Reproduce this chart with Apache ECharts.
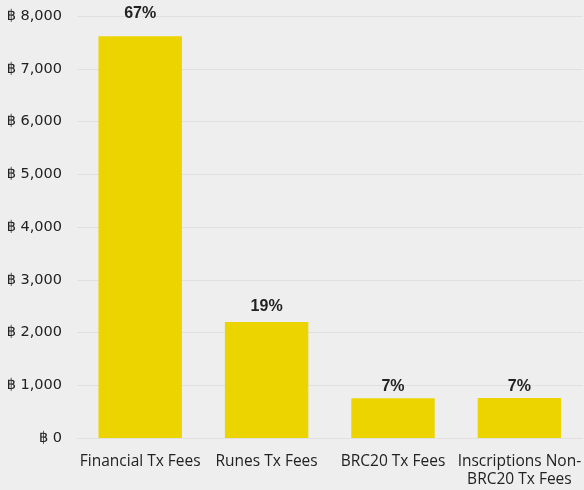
<!DOCTYPE html>
<html>
<head>
<meta charset="utf-8">
<script src="https://cdn.jsdelivr.net/npm/echarts@6/dist/echarts.min.js"></script>
<style>
  html, body { margin: 0; padding: 0; background: #eeeeee; }
  #chart { width: 584px; height: 490px; }
</style>
</head>
<body>
<div id="chart"></div>
<script>
// Fee categories and totals (in BTC)
const categories = ['Financial Tx Fees', 'Runes Tx Fees', 'BRC20 Tx Fees', 'Inscriptions Non-\nBRC20 Tx Fees'];
const feeValues = [7615, 2200, 755, 760];
const shareLabels = ['67%', '19%', '7%', '7%'];
const yTicks = { min: 0, max: 8000, interval: 1000 };

// gap between each share label and the top of its bar
const labelGaps = [15, 7, 3.5, 3.5];

const chart = echarts.init(document.getElementById('chart'), null, { renderer: 'canvas' });

chart.setOption({
  backgroundColor: '#eeeeee',
  animation: false,
  grid: { left: 77, right: 0, top: 16, bottom: 52, containLabel: false },
  xAxis: {
    type: 'category',
    data: categories,
    axisLine: { show: true, lineStyle: { color: '#e0e0e0', width: 1 } },
    axisTick: { show: false },
    axisLabel: {
      color: '#222',
      fontFamily: 'Open Sans, Liberation Sans, sans-serif',
      fontSize: 15.5,
      lineHeight: 18,
      margin: 15,
      interval: 0
    }
  },
  yAxis: {
    type: 'value',
    min: yTicks.min,
    max: yTicks.max,
    interval: yTicks.interval,
    axisLine: { show: false },
    axisTick: { show: false },
    splitLine: { lineStyle: { color: '#e0e0e0', width: 1 } },
    axisLabel: {
      color: '#222',
      fontFamily: 'DejaVu Sans, Noto Sans, sans-serif',
      fontSize: 14.5,
      margin: 15,
      formatter: v => '\u0E3F ' + v.toLocaleString('en-US')
    }
  },
  series: [{
    type: 'bar',
    data: feeValues.map((v, i) => ({ value: v, label: { distance: labelGaps[i] } })),
    barCategoryGap: '34%',
    itemStyle: { color: '#ecd400' },
    label: {
      show: true,
      position: 'top',
      color: '#222',
      fontWeight: 'bold',
      fontSize: 16,
      fontFamily: 'Liberation Sans, Arial, sans-serif',
      formatter: p => shareLabels[p.dataIndex]
    }
  }]
});
</script>
</body>
</html>
